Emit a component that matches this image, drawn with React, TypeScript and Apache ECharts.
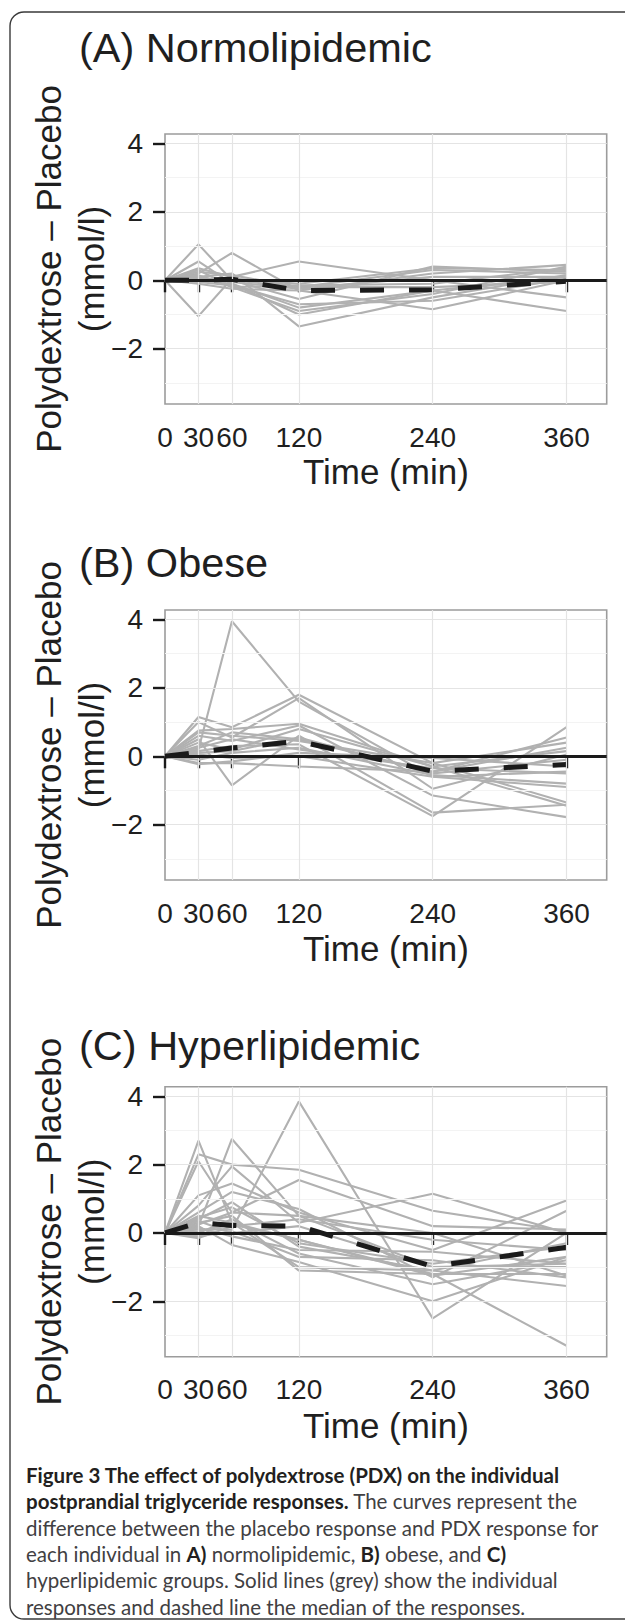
import React, { useEffect, useRef } from "react";
import * as echarts from "echarts";

// ---------- data ----------
const TIME_POINTS = [0, 30, 60, 120, 240, 360];
const X_TICKS = [0, 30, 60, 120, 240, 360];
const X_GRID = [30, 60, 120, 240, 360];
const Y_TICKS = [-2, 0, 2, 4];
const Y_MINOR = [-3, -1, 1, 3];
const Y_RANGE = [-3.62, 4.28];
const X_RANGE = [0, 396];

const PANEL_TITLES = ["(A) Normolipidemic", "(B) Obese", "(C) Hyperlipidemic"];
const X_TITLE = "Time (min)";
const Y_TITLE_1 = "Polydextrose \u2013 Placebo";
const Y_TITLE_2 = "(mmol/l)";

const normoIndividuals = [
  [0, 1.05, 0.0, -0.2, 0.3, 0.2],
  [0, 0.55, -0.1, -0.8, -0.3, 0.1],
  [0, -1.05, 0.05, -0.1, 0.35, 0.3],
  [0, 0.2, 0.8, -0.3, -0.85, 0.0],
  [0, 0.35, 0.1, 0.55, 0.0, -0.5],
  [0, 0.1, 0.2, -1.35, -0.5, 0.15],
  [0, 0.0, -0.1, -1.0, -0.3, -0.9],
  [0, 0.15, -0.2, -0.9, -0.4, 0.4],
  [0, 0.05, 0.0, -0.55, 0.4, 0.25],
  [0, -0.1, -0.25, -0.3, 0.2, 0.45],
  [0, 0.25, 0.15, -0.2, -0.2, -0.05],
  [0, -0.05, -0.15, -0.7, -0.6, 0.05],
  [0, 0.1, -0.05, -0.25, 0.1, 0.1],
  [0, 0.3, -0.2, -0.15, -0.1, 0.35],
];
const normoMedian = [0, 0.0, 0.03, -0.3, -0.28, -0.03];

const obeseIndividuals = [
  [0, 0.2, 3.95, 1.6, -0.6, -0.45],
  [0, 1.15, 0.85, 1.8, -0.2, -1.35],
  [0, 1.0, 0.55, 1.7, -0.95, 0.05],
  [0, 0.75, 0.8, 0.95, -0.3, -1.45],
  [0, 0.6, 0.45, 0.9, -1.15, -1.78],
  [0, 0.5, -0.85, 0.6, -1.65, -1.42],
  [0, 0.3, 0.7, 0.5, -0.45, 0.55],
  [0, 0.15, 0.3, 0.35, -1.75, 0.85],
  [0, -0.1, 0.1, 0.25, -0.55, -0.8],
  [0, -0.2, -0.2, -0.3, -0.45, 0.25],
  [0, -0.23, -0.15, 0.1, -0.05, -0.3],
  [0, 0.4, 0.2, 0.8, -0.3, 0.15],
  [0, 0.05, -0.05, 0.0, -0.6, -0.9],
  [0, 0.7, 0.6, 0.45, -0.2, 0.4],
  [0, 0.25, 0.5, 0.2, -0.35, -0.5],
  [0, 0.1, 0.15, 0.55, -0.5, -0.1],
];
const obeseMedian = [0, 0.12, 0.24, 0.44, -0.44, -0.24];

const hyperIndividuals = [
  [0, 0.1, 0.1, 3.85, -2.5, 0.0],
  [0, 2.7, 0.3, -0.2, -1.2, -3.3],
  [0, 0.2, 2.75, 0.5, -1.0, -0.9],
  [0, 2.3, 2.0, 1.85, 0.65, 0.05],
  [0, 2.1, 0.6, 1.55, 0.2, 0.1],
  [0, 0.8, 1.95, 0.3, 1.15, 0.0],
  [0, 1.1, 1.45, 0.6, -0.5, 0.95],
  [0, 0.6, 1.2, 0.7, -1.3, 0.65],
  [0, 0.4, 0.9, -0.4, -1.1, -1.55],
  [0, 0.3, 0.5, -1.1, -1.2, -1.2],
  [0, 0.2, -0.35, -0.85, -2.0, -0.7],
  [0, 0.0, 0.4, -0.6, -1.5, -0.8],
  [0, -0.1, 0.05, -0.7, -0.8, -1.3],
  [0, -0.15, 0.2, 0.4, -0.2, -0.5],
  [0, 0.5, 0.3, -1.0, -1.1, -0.3],
  [0, 0.15, -0.1, -0.5, -0.55, -0.9],
  [0, 0.25, 0.6, 0.5, 0.0, -1.25],
  [0, 0.05, 0.25, -0.2, -1.25, -0.7],
  [0, 0.35, 0.0, 0.2, -1.0, -1.0],
  [0, 0.45, 0.75, -0.3, -0.9, -0.4],
];
const hyperMedian = [0, 0.3, 0.22, 0.2, -0.98, -0.42];

const CAPTION_LINES: [string, string][][] = [
  [["b", "Figure 3 The effect of polydextrose (PDX) on the individual"]],
  [["b", "postprandial triglyceride responses."], ["r", " The curves represent the"]],
  [["r", "difference between the placebo response and PDX response for"]],
  [
    ["r", "each individual in "],
    ["b", "A)"],
    ["r", " normolipidemic, "],
    ["b", "B)"],
    ["r", " obese, and "],
    ["b", "C)"],
  ],
  [["r", "hyperlipidemic groups. Solid lines (grey) show the individual"]],
  [["r", "responses and dashed line the median of the responses."]],
];

// ---------- layout ----------
const FONT = "'Liberation Sans', Arial, Helvetica, sans-serif";
const CAPTION_FONT = "Lato, 'Open Sans', sans-serif";
const TEXT_COLOR = "#1f1f1f";
const GRID_LEFT = 165;
const GRID_WIDTH = 441.7;
const GRID_HEIGHT = 270;
const GRID_TOPS = [134, 610, 1086.7];
const TITLE_Y = [47, 562, 1045];
const XTITLE_Y = [471, 948, 1425];
const CAPTION_TOP = 1475;
const CAPTION_STEP = 26.3;

const panels = [
  { individuals: normoIndividuals, median: normoMedian },
  { individuals: obeseIndividuals, median: obeseMedian },
  { individuals: hyperIndividuals, median: hyperMedian },
];

function toPoints(vals: number[]) {
  return TIME_POINTS.map((t, k) => [t, vals[k]]);
}

function buildOption() {
  const grid: any[] = [];
  const xAxis: any[] = [];
  const yAxis: any[] = [];
  const series: any[] = [];
  const graphic: any[] = [];

  const fmt = (v: number) => (v < 0 ? "\u2212" + Math.abs(v) : String(v));

  panels.forEach((p, i) => {
    grid.push({
      left: GRID_LEFT,
      top: GRID_TOPS[i],
      width: GRID_WIDTH,
      height: GRID_HEIGHT,
      show: true,
      borderColor: "#9c9c9c",
      borderWidth: 1.6,
      backgroundColor: "#ffffff",
      containLabel: false,
    });
    xAxis.push({
      type: "value",
      gridIndex: i,
      min: X_RANGE[0],
      max: X_RANGE[1],
      axisLine: { show: false },
      splitLine: { show: false },
      axisTick: {
        show: true,
        customValues: X_TICKS,
        length: 12,
        lineStyle: { color: "#1a1a1a", width: 2.4 },
      },
      axisLabel: {
        show: true,
        customValues: X_TICKS,
        margin: 19,
        fontSize: 28,
        fontFamily: FONT,
        color: TEXT_COLOR,
        showMinLabel: true,
        showMaxLabel: true,
        hideOverlap: false,
      },
    });
    yAxis.push({
      type: "value",
      gridIndex: i,
      min: Y_RANGE[0],
      max: Y_RANGE[1],
      axisLine: { show: false },
      splitLine: { show: false },
      axisTick: {
        show: true,
        customValues: Y_TICKS,
        length: 12,
        lineStyle: { color: "#1a1a1a", width: 2.4 },
      },
      axisLabel: {
        show: true,
        customValues: Y_TICKS,
        margin: 22,
        fontSize: 28,
        fontFamily: FONT,
        color: TEXT_COLOR,
        formatter: fmt,
      },
    });

    // gridlines
    series.push({
      type: "line",
      xAxisIndex: i,
      yAxisIndex: i,
      data: [],
      silent: true,
      z: 1,
      markLine: {
        silent: true,
        symbol: ["none", "none"],
        label: { show: false },
        animation: false,
        data: [
          ...Y_MINOR.map((v) => ({ yAxis: v, lineStyle: { color: "#f3f3f3", width: 1.2, type: "solid" } })),
          ...Y_TICKS.map((v) => ({ yAxis: v, lineStyle: { color: "#e4e4e4", width: 1.2, type: "solid" } })),
          ...X_GRID.map((v) => ({ xAxis: v, lineStyle: { color: "#e4e4e4", width: 1.2, type: "solid" } })),
        ],
      },
    });
    // zero reference line
    series.push({
      type: "line",
      xAxisIndex: i,
      yAxisIndex: i,
      data: [],
      silent: true,
      z: 2,
      markLine: {
        silent: true,
        symbol: ["none", "none"],
        label: { show: false },
        animation: false,
        data: [{ yAxis: 0, lineStyle: { color: "#1a1a1a", width: 2.8, type: "solid" } }],
      },
    });
    p.individuals.forEach((vals) => {
      series.push({
        type: "line",
        xAxisIndex: i,
        yAxisIndex: i,
        data: toPoints(vals),
        symbol: "none",
        silent: true,
        z: 3,
        lineStyle: { color: "#b1b1b1", width: 2.1 },
      });
    });
    series.push({
      type: "line",
      xAxisIndex: i,
      yAxisIndex: i,
      data: toPoints(p.median),
      symbol: "none",
      silent: true,
      z: 4,
      lineStyle: { color: "#1a1a1a", width: 5, type: [24, 25] },
    });

    const cy = GRID_TOPS[i] + GRID_HEIGHT / 2;
    graphic.push({
      type: "text",
      x: 79,
      y: TITLE_Y[i],
      style: {
        text: PANEL_TITLES[i],
        font: `41.5px ${FONT}`,
        fill: TEXT_COLOR,
        textAlign: "left",
        textVerticalAlign: "middle",
      },
    });
    graphic.push({
      type: "text",
      x: 48,
      y: cy,
      rotation: Math.PI / 2,
      style: {
        text: Y_TITLE_1,
        font: `35px ${FONT}`,
        fill: TEXT_COLOR,
        textAlign: "center",
        textVerticalAlign: "middle",
      },
    });
    graphic.push({
      type: "text",
      x: 91.5,
      y: cy,
      rotation: Math.PI / 2,
      style: {
        text: Y_TITLE_2,
        font: `35px ${FONT}`,
        fill: TEXT_COLOR,
        textAlign: "center",
        textVerticalAlign: "middle",
      },
    });
    graphic.push({
      type: "text",
      x: GRID_LEFT + GRID_WIDTH / 2,
      y: XTITLE_Y[i],
      style: {
        text: X_TITLE,
        font: `35px ${FONT}`,
        fill: TEXT_COLOR,
        textAlign: "center",
        textVerticalAlign: "middle",
      },
    });
  });

  // caption
  CAPTION_LINES.forEach((segs, k) => {
    graphic.push({
      type: "text",
      x: 26,
      y: CAPTION_TOP + k * CAPTION_STEP,
      style: {
        text: segs.map(([s, t]) => `{${s}|${t}}`).join(""),
        textAlign: "left",
        textVerticalAlign: "middle",
        rich: {
          b: { fontFamily: CAPTION_FONT, fontWeight: "bold", fontSize: 20.5, fill: "#231f20", color: "#231f20" },
          r: { fontFamily: CAPTION_FONT, fontWeight: "normal", fontSize: 20.5, fill: "#414042", color: "#414042" },
        },
      },
    });
  });

  // outer rounded frame
  graphic.push({
    type: "rect",
    shape: { x: 10, y: 12, width: 660, height: 1607, r: 14 },
    style: { fill: "none", stroke: "#3a3a3a", lineWidth: 1.4 },
    z: -10,
    silent: true,
  });

  return {
    animation: false,
    backgroundColor: "#ffffff",
    grid,
    xAxis,
    yAxis,
    series,
    graphic,
  };
}

export default function App() {
  const ref = useRef<HTMLDivElement>(null);
  useEffect(() => {
    if (!ref.current) return;
    const chart = echarts.init(ref.current, null, { renderer: "svg" });
    chart.setOption(buildOption() as any);
    return () => chart.dispose();
  }, []);
  return (
    <div
      ref={ref}
      style={{ position: "absolute", left: 0, top: 0, width: 625, height: 1624, background: "#fff" }}
    />
  );
}
